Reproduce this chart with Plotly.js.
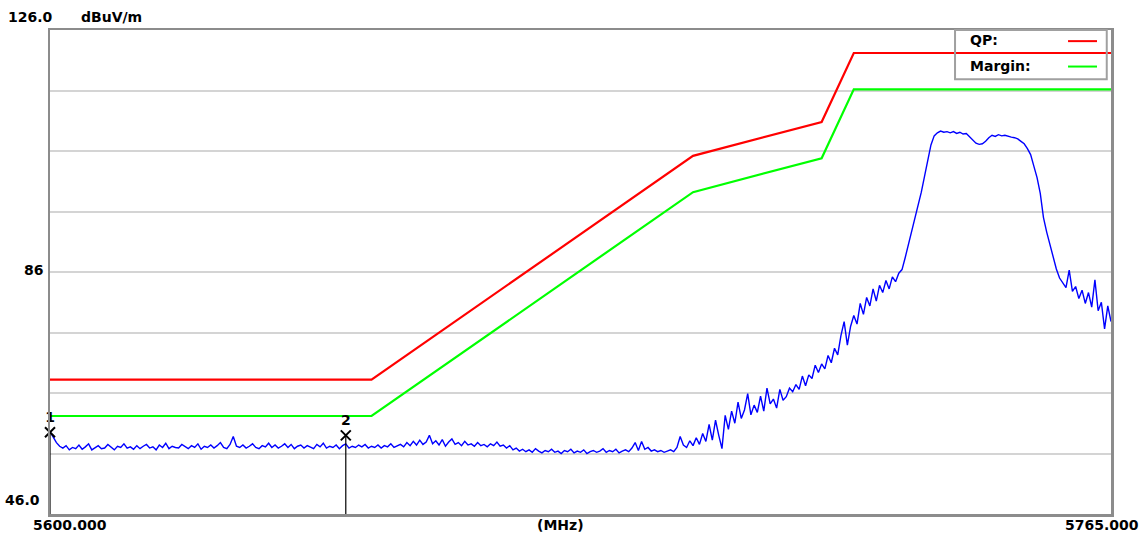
<!DOCTYPE html>
<html>
<head>
<meta charset="utf-8">
<script src="https://cdn.plot.ly/plotly-3.0.1.min.js"></script>
<style>html,body{margin:0;padding:0;background:#fff;}#chart{width:1148px;height:538px;}</style>
</head>
<body>
<div id="chart"></div>
<script>
// ---- data ----
const sweepStartMHz = 5600;
const sweepStepMHz = 0.5;
const traceLevel = [
  59.6, 58.6, 57.8, 57.2, 56.9, 57.3, 56.6, 57.0, 56.8, 57.4, 56.7, 57.1, 57.6, 56.6, 57.0, 57.3, 56.8, 56.9, 57.5, 57.0,
  56.6, 57.2, 57.0, 57.6, 56.9, 57.1, 56.7, 57.3, 56.8, 57.2, 57.5, 56.9, 57.1, 56.6, 57.4, 57.0, 57.7, 56.8, 57.2, 57.0,
  56.9, 57.5, 57.1, 56.8, 57.3, 57.0, 57.6, 56.7, 57.2, 57.0, 57.4, 56.9, 57.3, 57.8, 57.0, 56.8, 57.5, 58.8, 57.2, 57.0,
  57.4, 56.9, 57.2, 57.6, 57.0, 56.8, 57.3, 57.1, 57.7, 57.0, 57.4, 56.9, 57.2, 57.6, 57.0, 57.5, 56.8, 57.2, 57.4, 56.9,
  57.3, 57.0, 56.8, 57.5, 57.1, 57.7, 56.9, 57.2, 57.0, 57.4, 56.8, 57.3, 57.6, 56.9, 57.2, 57.0, 57.4, 57.1, 57.5, 56.9,
  57.2, 57.0, 57.4, 56.9, 57.3, 57.1, 57.6, 57.0, 57.2, 57.5, 57.1, 57.8, 57.3, 58.0, 57.4, 58.2, 57.5, 57.9, 59.0, 57.6,
  58.1, 57.4, 58.3, 57.2, 57.9, 58.4, 57.5, 57.8, 57.3, 58.0, 57.4, 57.6, 57.2, 57.8, 57.3, 57.5, 57.1, 57.6, 57.3, 57.9,
  57.2, 57.4, 56.9, 57.3, 56.6, 56.9, 56.4, 56.7, 56.3, 56.6, 56.2, 56.8, 56.4, 56.1, 56.5, 56.3, 56.7, 56.2, 56.4, 56.0,
  56.5, 56.3, 56.7, 56.1, 56.4, 56.2, 56.6, 56.0, 56.3, 56.5, 56.2, 56.4, 56.8, 56.2, 56.5, 56.3, 56.7, 56.1, 56.4, 56.6,
  56.3, 56.9, 57.8, 56.5, 58.0, 56.7, 57.0, 56.4, 56.6, 56.3, 56.5, 56.2, 56.4, 56.6, 56.3, 57.0, 58.8, 57.4, 57.0, 58.1,
  57.3, 58.6, 57.5, 59.3, 58.0, 60.8, 58.2, 61.5, 59.0, 56.8, 62.3, 60.0, 63.0, 61.0, 64.5, 61.8, 63.2, 65.9, 62.4, 64.0,
  62.8, 65.5, 63.0, 66.8, 64.2, 65.0, 63.5, 66.6, 64.8, 65.4, 66.8, 66.2, 67.4, 66.6, 68.8, 67.2, 69.0, 68.4, 70.6, 69.4,
  70.8, 70.0, 72.2, 71.0, 73.4, 72.3, 75.5, 77.8, 73.9, 77.0, 78.8, 77.4, 80.8, 79.0, 81.8, 80.4, 83.2, 81.2, 83.8, 82.6,
  84.6, 83.2, 85.2, 84.4, 85.8, 86.4, 88.4, 90.5, 92.6, 94.8, 97.0, 99.2, 101.8, 104.4, 107.0, 108.5, 109.0, 109.3, 109.1, 109.2,
  109.0, 109.2, 108.9, 109.1, 108.8, 108.9, 108.4, 107.8, 107.3, 107.1, 107.2, 107.6, 108.2, 108.6, 108.4, 108.7, 108.5, 108.6, 108.4, 108.3,
  108.2, 108.0, 107.6, 107.2, 106.4, 105.4, 103.5, 101.6, 99.0, 95.0, 92.6, 90.6, 88.4, 86.5, 85.0, 84.2, 83.4, 86.3, 82.8, 83.6,
  81.6, 83.0, 80.8, 82.6, 80.2, 84.7, 79.6, 81.0, 76.6, 80.4, 77.8
];
const traceFreq = traceLevel.map((_, i) => sweepStartMHz + i * sweepStepMHz);

const limitFreq = [5600, 5650, 5700, 5720, 5725, 5765];
const qpLevel = [68.2, 68.2, 105.2, 110.8, 122.2, 122.2];
const marginLevel = [62.2, 62.2, 99.2, 104.8, 116.2, 116.2];

const markerNames = ['1', '2'];
const markerFreq = [5600, 5646];
const markerLevel = [59.5, 59.0];

const yRange = [46, 126];
const xRange = [5600, 5765];
const yTickVals = [126, 86, 46];
const yTickLabels = ['126.0', '86', '46.0'];
const yUnit = 'dBuV/m';
const xTickLabels = ['5600.000', '(MHz)', '5765.000'];
const legendNames = ['QP:', 'Margin:'];

// ---- styles ----
const FONT = {family: 'DejaVu Sans, Arial, sans-serif', size: 14, color: '#000', weight: 'bold'};
const RED = '#ff0000', GREEN = '#00ff00', BLUE = '#0000ff';

const traces = [
  {x: limitFreq, y: qpLevel, type: 'scatter', mode: 'lines', line: {color: RED, width: 2.2}, hoverinfo: 'skip'},
  {x: limitFreq, y: marginLevel, type: 'scatter', mode: 'lines', line: {color: GREEN, width: 2.2}, hoverinfo: 'skip'},
  {x: traceFreq, y: traceLevel, type: 'scatter', mode: 'lines', line: {color: BLUE, width: 1.4}, hoverinfo: 'skip'}
];
markerFreq.forEach((f, i) => {
  traces.push({x: [f, f], y: [markerLevel[i], yRange[0]], type: 'scatter', mode: 'lines',
    line: {color: '#000', width: 1.2}, hoverinfo: 'skip', cliponaxis: false});
});
traces.push({x: markerFreq, y: markerLevel, type: 'scatter', mode: 'markers+text',
  text: markerNames, textposition: 'top center',
  textfont: {family: 'DejaVu Sans, Arial, sans-serif', size: 14, color: '#000', weight: 'bold'},
  marker: {symbol: 'x-thin-open', size: 10, color: '#000', line: {color: '#000', width: 2}},
  cliponaxis: false, hoverinfo: 'skip'});

const annotations = [];
const yShifts = [[5, 13], [-5, 2], [-8, 14]];
yTickVals.forEach((v, i) => {
  annotations.push({xref: 'paper', yref: 'y', x: 0, y: v, text: yTickLabels[i], showarrow: false,
    xanchor: 'right', yanchor: 'middle', xshift: yShifts[i][0], yshift: yShifts[i][1], font: FONT});
});
annotations.push({xref: 'paper', yref: 'y', x: 0, y: yTickVals[0], text: yUnit, showarrow: false,
  xanchor: 'left', yanchor: 'middle', xshift: 29, yshift: 13, font: FONT});
annotations.push({xref: 'x', yref: 'paper', x: xRange[0], y: 0, text: xTickLabels[0], showarrow: false,
  xanchor: 'left', yanchor: 'top', xshift: -19, yshift: -1, font: FONT});
annotations.push({xref: 'paper', yref: 'paper', x: 0.4807, y: 0, text: xTickLabels[1], showarrow: false,
  xanchor: 'center', yanchor: 'top', yshift: -1, font: FONT});
annotations.push({xref: 'x', yref: 'paper', x: xRange[1], y: 0, text: xTickLabels[2], showarrow: false,
  xanchor: 'right', yanchor: 'top', xshift: 30, yshift: -1, font: FONT});
// legend texts
annotations.push({xref: 'paper', yref: 'paper', x: 0.865, y: 0.980, text: legendNames[0], showarrow: false,
  xanchor: 'left', yanchor: 'middle', font: FONT});
annotations.push({xref: 'paper', yref: 'paper', x: 0.865, y: 0.926, text: legendNames[1], showarrow: false,
  xanchor: 'left', yanchor: 'middle', font: FONT});

const shapes = [
  {type: 'rect', xref: 'paper', yref: 'paper', x0: 0.853, x1: 0.996, y0: 0.898, y1: 1.0,
    line: {color: '#a0a0a0', width: 2}, fillcolor: 'rgba(0,0,0,0)'},
  {type: 'line', xref: 'paper', yref: 'paper', x0: 0.9595, x1: 0.9868, y0: 0.977, y1: 0.977,
    line: {color: RED, width: 2}},
  {type: 'line', xref: 'paper', yref: 'paper', x0: 0.9595, x1: 0.9868, y0: 0.9245, y1: 0.9245,
    line: {color: GREEN, width: 2}}
];

const layout = {
  width: 1148, height: 538,
  margin: {l: 50, r: 37, t: 30, b: 24, pad: 0},
  paper_bgcolor: '#fff', plot_bgcolor: '#fff',
  showlegend: false,
  xaxis: {range: xRange, showgrid: false, zeroline: false, showticklabels: false, ticks: '',
    showline: true, mirror: true, linecolor: '#8c8c8c', linewidth: 2.5},
  yaxis: {range: yRange, dtick: 10, tick0: 46, showgrid: true, gridcolor: '#d4d4d4', gridwidth: 2,
    zeroline: false, showticklabels: false, ticks: '',
    showline: true, mirror: true, linecolor: '#8c8c8c', linewidth: 2.5},
  annotations: annotations,
  shapes: shapes
};

Plotly.newPlot('chart', traces, layout, {staticPlot: true, displayModeBar: false});
</script>
</body>
</html>
